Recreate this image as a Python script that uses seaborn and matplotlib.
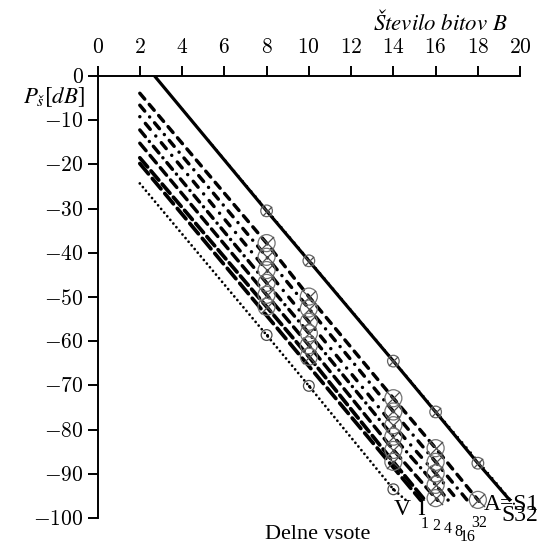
import numpy as np
import pandas as pd
import matplotlib
matplotlib.use("Agg")
import matplotlib.pyplot as plt
import seaborn as sns

# Podatki (odčitani s slike)
xticks = [0, 2, 4, 6, 8, 10, 12, 14, 16, 18, 20]
yticks = [0, -10, -20, -30, -40, -50, -60, -70, -80, -90, -100]
mark_B = [8, 10, 14, 16, 18]

B_S1 = [2.7, 8, 10, 14, 16, 18, 19.5]
P_S1 = [0, -30.5, -41.8, -64.5, -76.0, -87.6, -95.9]

B_S32 = [2.8, 19.8]
P_S32 = [-0.6, -97.3]

B_I32 = [2, 8, 10, 14, 16, 18, 18.05]
P_I32 = [-3.9, -37.8, -49.9, -72.9, -84.2, -95.9, -96.2]
B_I16 = [2, 8, 10, 14, 16, 17.5]
P_I16 = [-6.6, -40.9, -52.6, -75.9, -87.3, -96.0]
B_I8 = [2, 8, 10, 14, 16, 17.05]
P_I8 = [-9.2, -43.9, -55.6, -79.0, -89.9, -96.0]
B_I4 = [2, 8, 10, 14, 16, 16.6]
P_I4 = [-12.2, -46.8, -58.2, -81.6, -92.5, -96.0]
B_I2 = [2, 8, 10, 14, 16, 16.1]
P_I2 = [-15.2, -49.5, -60.9, -84.6, -95.5, -96.0]
B_I1 = [2, 8, 10, 14, 15.5]
P_I1 = [-18.5, -52.2, -63.5, -87.3, -96.0]

B_extra = [2, 15.3]
P_extra = [-19.8, -96.0]

B_V = [2, 8, 10, 14, 14.6]
P_V = [-24.3, -58.6, -70.1, -93.5, -96.0]

plt.rcParams['mathtext.fontset'] = 'cm'
plt.rcParams['font.family'] = 'Liberation Serif'

fig, ax = plt.subplots(figsize=(5.39, 5.47), dpi=100)
fig.subplots_adjust(left=0.181, right=0.965, top=0.861, bottom=0.053)

def crta(B, P, ls, lw):
    sns.lineplot(x=B, y=P, ax=ax, color='black', linestyle=ls, linewidth=lw,
                 sort=False, estimator=None)
    ax.lines[-1].set_dash_capstyle('round')

crta(B_S1, P_S1, '-', 2.3)
crta(B_S32, P_S32, (0, (0.01, 3.0)), 1.6)
crta(B_I32, P_I32, (0, (2.2, 2.0)), 2.5)
crta(B_I16, P_I16, (0, (2.2, 2.2, 0.01, 2.2)), 2.5)
crta(B_I8, P_I8, (0, (0.01, 2.5, 2.2, 2.5)), 2.5)
crta(B_I4, P_I4, (0, (2.5, 1.8, 0.01, 1.8)), 2.5)
crta(B_I2, P_I2, (0, (2.8, 1.8)), 2.5)
crta(B_I1, P_I1, (0, (3.2, 1.4)), 2.7)
crta(B_extra, P_extra, (0, (3.6, 1.6)), 2.7)
crta(B_V, P_V, (0, (0.01, 1.7)), 2.0)

# oznake: ⊗ na delnih vsotah, manjši na A, ⊙ na V
def tocke(B, P):
    return ([b for b in B if b in mark_B], [p for b, p in zip(B, P) if b in mark_B])

for B, P in [(B_I32, P_I32), (B_I16, P_I16), (B_I8, P_I8), (B_I4, P_I4), (B_I2, P_I2), (B_I1, P_I1)]:
    bx, py = tocke(B, P)
    sns.scatterplot(x=bx, y=py, ax=ax, marker='o', s=150, facecolors='none',
                    edgecolors='0.45', linewidths=0.9, zorder=3)
    sns.scatterplot(x=bx, y=py, ax=ax, marker='x', s=90, color='0.3',
                    linewidths=0.9, zorder=3)

bx, py = tocke(B_S1, P_S1)
sns.scatterplot(x=bx, y=py, ax=ax, marker='o', s=70, facecolors='none',
                edgecolors='0.4', linewidths=0.9, zorder=3)
sns.scatterplot(x=bx, y=py, ax=ax, marker='x', s=45, color='0.3',
                linewidths=0.9, zorder=3)

bx, py = tocke(B_V, P_V)
sns.scatterplot(x=bx, y=py, ax=ax, marker='o', s=60, facecolors='none',
                edgecolors='0.3', linewidths=0.9, zorder=3)
sns.scatterplot(x=bx, y=py, ax=ax, marker='.', s=20, color='black',
                linewidths=0, zorder=3)

ax.set_xlim(0, 20)
ax.set_ylim(-100, 0)
ax.xaxis.tick_top()
ax.set_xticks(xticks)
ax.set_xticklabels([f'${v}$' for v in xticks])
ax.set_yticks(yticks)
ax.set_yticklabels([f'${v}$' for v in yticks])
ax.tick_params(axis='both', direction='out', length=7, width=1.4, labelsize=15.5)
ax.tick_params(axis='x', pad=6)
ax.tick_params(axis='y', pad=3)
for s in ['right', 'bottom']:
    ax.spines[s].set_visible(False)
for s in ['top', 'left']:
    ax.spines[s].set_linewidth(1.4)
ax.set_xlabel('')
ax.set_ylabel('')

ax.text(0.969, 1.122, r'$\mathit{Število\ bitov\ B}$', transform=ax.transAxes,
        ha='right', va='center', fontsize=16.5, math_fontfamily='stix')
ax.text(-0.03, 0.952, r'$P_{\mathit{š}}[dB]$', transform=ax.transAxes,
        ha='right', va='center', fontsize=16.5, math_fontfamily='stix')

kw = dict(fontsize=17, clip_on=False, va='center')
ax.text(10.4, -103.8, 'Delne vsote', ha='center', fontsize=16, clip_on=False, va='center')
ax.text(14.4, -98.0, 'V', ha='center', **kw)
ax.text(15.33, -98.0, 'I', ha='center', **kw)
sub_lab = ['1', '2', '4', '8', '16', '32']
sub_B = [15.48, 16.04, 16.57, 17.1, 17.53, 18.08]
sub_P = [-101.3, -101.9, -102.4, -103.2, -104.3, -101.1]
for t, b, p in zip(sub_lab, sub_B, sub_P):
    ax.text(b, p, t, ha='center', va='center', fontsize=11.5, clip_on=False)
ax.text(18.3, -97.0, 'A=S1', ha='left', **kw)
ax.text(19.1, -99.4, 'S32', ha='left', **kw)

fig.savefig('out.png', dpi=100)
